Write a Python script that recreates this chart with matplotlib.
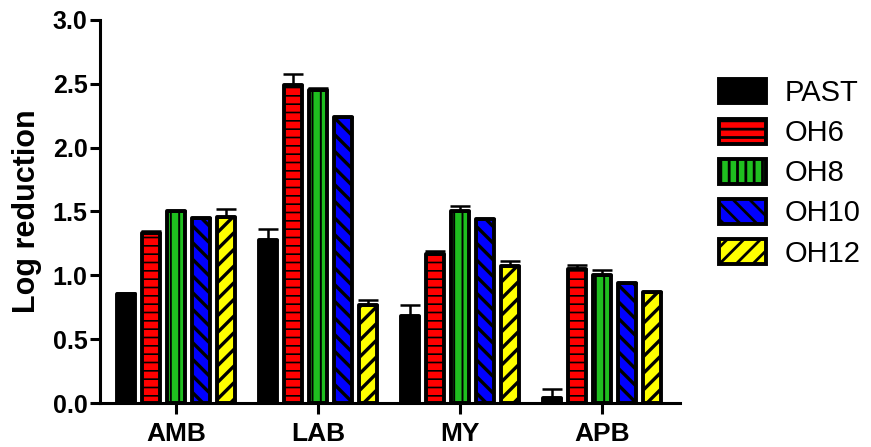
import numpy as np
import matplotlib.pyplot as plt
from matplotlib.patches import Patch

plt.rcParams['font.family'] = ['Liberation Sans', 'DejaVu Sans']
plt.rcParams['hatch.linewidth'] = 2.0

groups = ['AMB', 'LAB', 'MY', 'APB']
series = ['PAST', 'OH6', 'OH8', 'OH10', 'OH12']

past = [0.85, 1.28, 0.68, 0.04]
oh6 = [1.33, 2.49, 1.17, 1.05]
oh8 = [1.50, 2.45, 1.50, 1.00]
oh10 = [1.45, 2.24, 1.44, 0.94]
oh12 = [1.46, 0.77, 1.07, 0.87]

past_err = [0.01, 0.08, 0.09, 0.07]
oh6_err = [0.02, 0.09, 0.02, 0.03]
oh8_err = [0.0, 0.02, 0.04, 0.04]
oh10_err = [0.0, 0.0, 0.0, 0.0]
oh12_err = [0.06, 0.04, 0.04, 0.0]

values = [past, oh6, oh8, oh10, oh12]
errors = [past_err, oh6_err, oh8_err, oh10_err, oh12_err]
colors = ['black', '#ff0000', '#1fbf1f', '#0000ff', '#ffff00']
hatches = [None, '--', '||', '\\\\', '//']
hatch_lw = [1.0, 1.2, 1.4, 2.4, 2.4]

fig = plt.figure(figsize=(8.71, 4.47), dpi=100)
ax = fig.add_axes([0.1148, 0.0984, 0.666, 0.8569])

x = np.arange(len(groups))
pitch = 0.176
width = 0.127

for i, name in enumerate(series):
    pos = x + (i - 2) * pitch
    with plt.rc_context({'hatch.linewidth': hatch_lw[i]}):
        bars = ax.bar(pos, values[i], width, color=colors[i], edgecolor='black',
                      linewidth=2.8, hatch=hatches[i], joinstyle='round', zorder=2)
    for b in bars:
        if hasattr(b, 'set_hatch_linewidth'):
            b.set_hatch_linewidth(hatch_lw[i])
    err = np.array(errors[i])
    ax.errorbar(pos, values[i], yerr=[np.zeros_like(err), err], fmt='none',
                ecolor='black', elinewidth=1.8, capsize=7, capthick=1.8, zorder=3)

ax.set_xlim(-0.535, 3.55)
ax.set_ylim(0, 3.0)
ax.set_yticks(np.arange(0, 3.01, 0.5))
ax.set_yticklabels(['%.1f' % v for v in np.arange(0, 3.01, 0.5)])
ax.set_xticks(x)
ax.set_xticklabels(groups)

for s in ['top', 'right']:
    ax.spines[s].set_visible(False)
for s in ['left', 'bottom']:
    ax.spines[s].set_linewidth(2.2)
    ax.spines[s].set_zorder(4)

ax.tick_params(axis='y', width=2.2, length=7, labelsize=18, pad=2)
ax.tick_params(axis='x', width=2.2, length=8, labelsize=19, pad=6)
for lab in ax.get_xticklabels() + ax.get_yticklabels():
    lab.set_fontweight('bold')

ax.set_ylabel('Log reduction', fontsize=22, fontweight='bold', labelpad=8)

handles = []
for i in range(len(series)):
    with plt.rc_context({'hatch.linewidth': hatch_lw[i]}):
        p = Patch(facecolor=colors[i], edgecolor='black', linewidth=2.8,
                  hatch=hatches[i], label=series[i], joinstyle='round')
    if hasattr(p, 'set_hatch_linewidth'):
        p.set_hatch_linewidth(hatch_lw[i])
    handles.append(p)
fig.legend(handles=handles, loc='upper left', bbox_to_anchor=(0.812, 0.85),
           frameon=False, fontsize=21, handlelength=1.6, handleheight=0.93,
           handletextpad=0.65, labelspacing=0.4, borderaxespad=0)

plt.savefig('out.png', dpi=100)
